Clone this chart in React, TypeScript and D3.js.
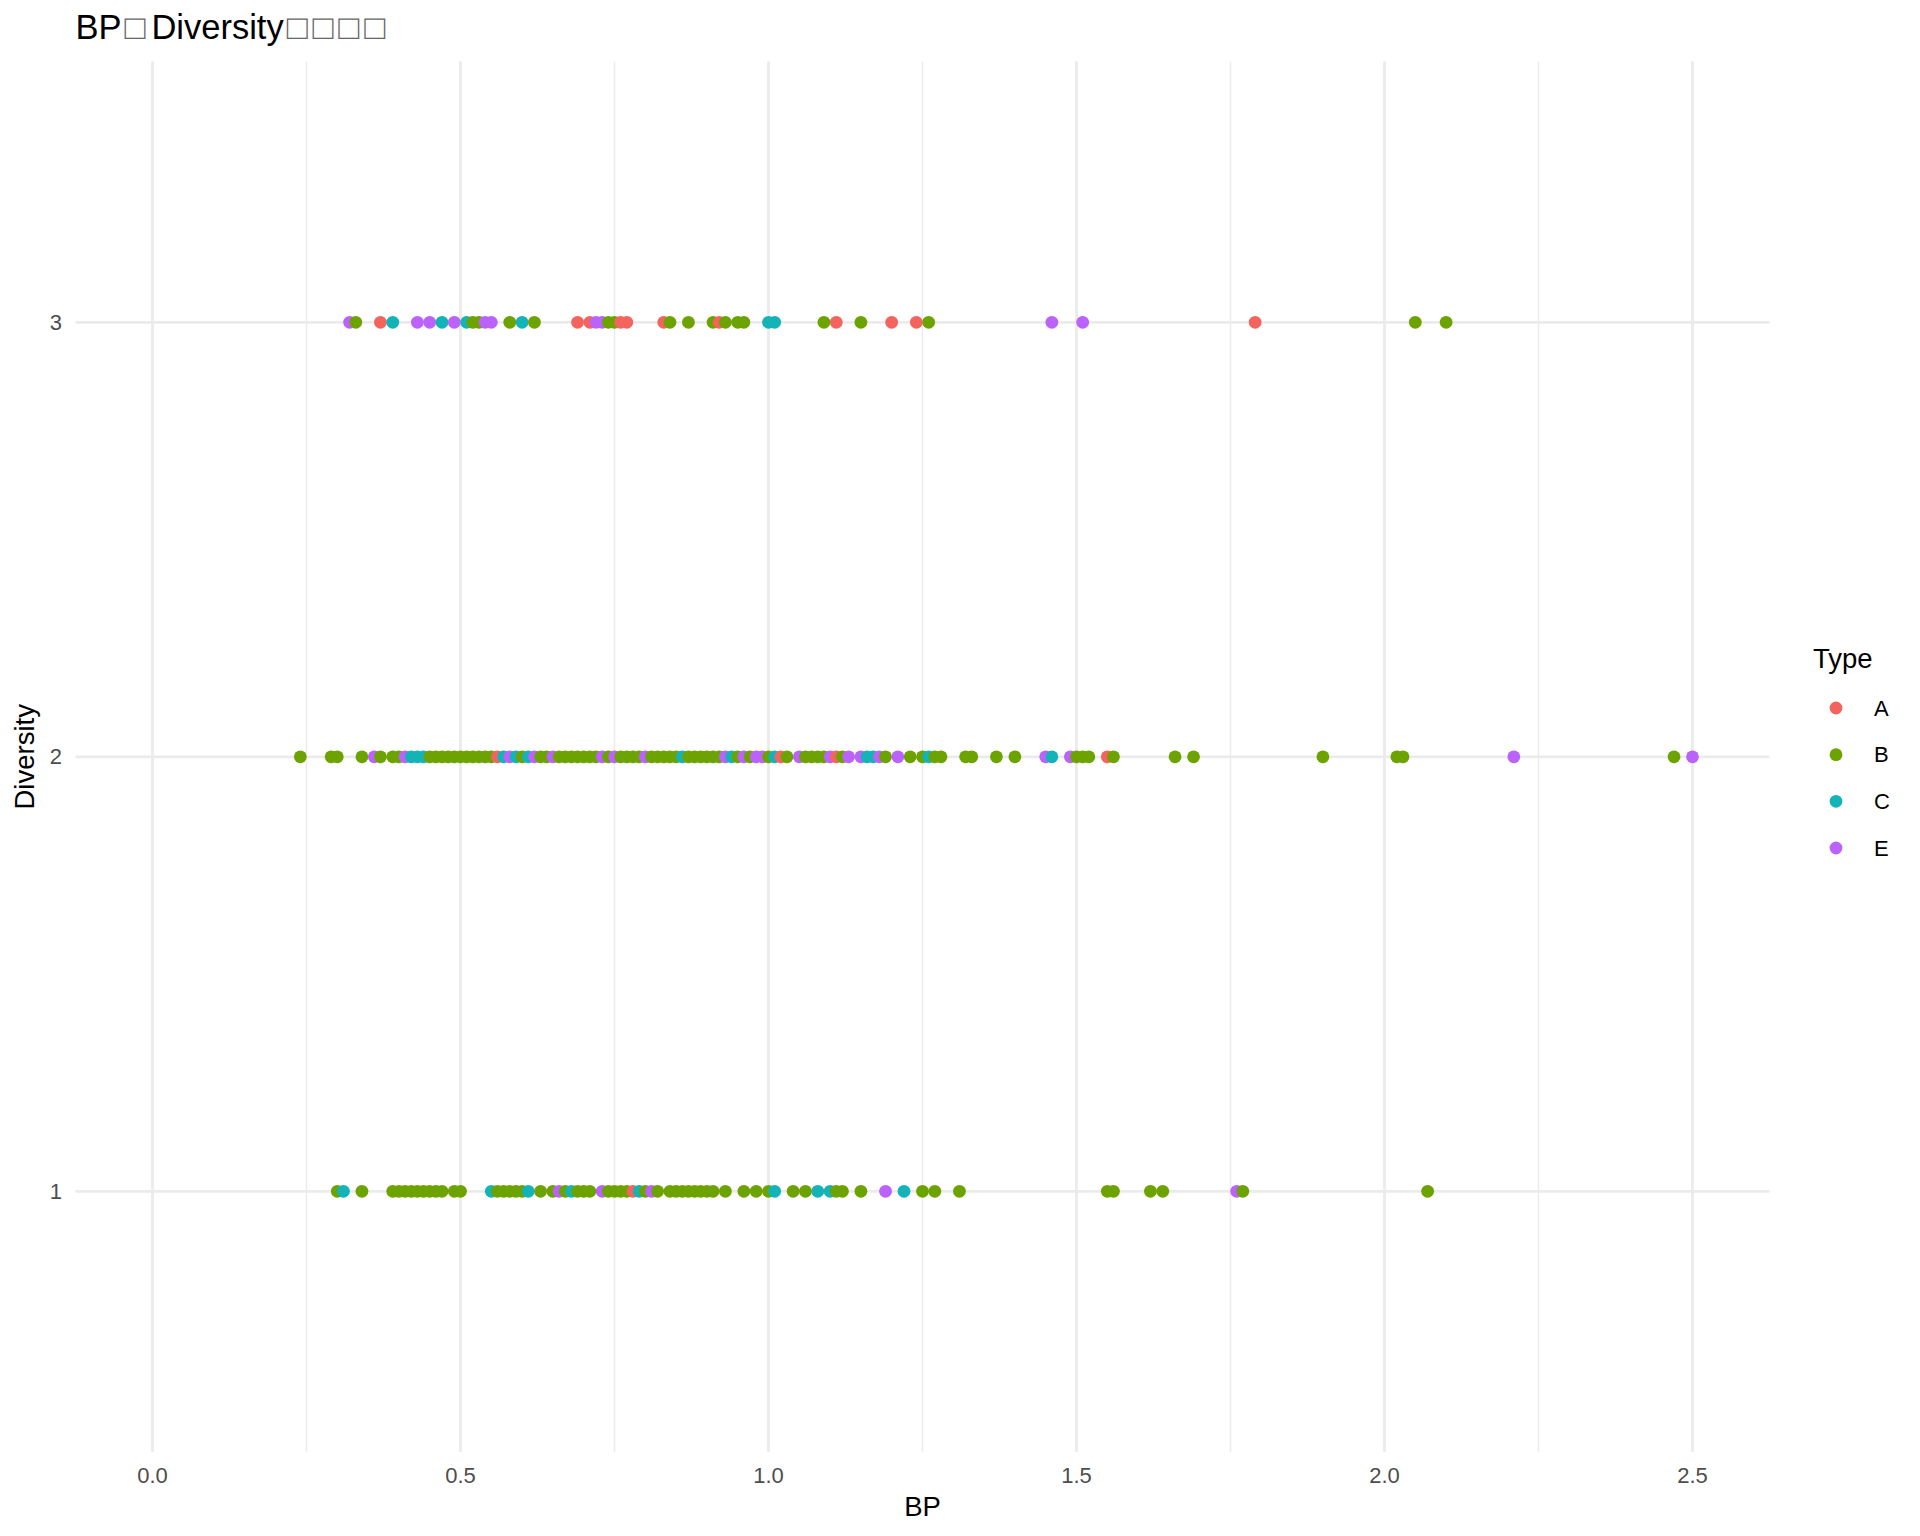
import * as d3 from "d3";

// BP values, per Type and Diversity level
const typeA_div1 = [0.78];
const typeA_div2 = [0.56, 1.02, 1.11, 1.55];
const typeA_div3 = [0.37, 0.69, 0.71, 0.76, 0.77, 0.83, 0.92, 1.11, 1.2, 1.24, 1.79];

const typeB_div1 = [
  0.3, 0.34, 0.39, 0.4, 0.41, 0.42, 0.43, 0.44, 0.45, 0.46, 0.47, 0.49, 0.5, 0.56, 0.57, 0.58, 0.59, 0.6,
  0.63, 0.65, 0.67, 0.69, 0.7, 0.71, 0.74, 0.75, 0.76, 0.77, 0.8, 0.82, 0.84, 0.85, 0.86, 0.87, 0.88, 0.89,
  0.9, 0.91, 0.93, 0.96, 0.98, 1.0, 1.04, 1.06, 1.11, 1.12, 1.15, 1.25, 1.27, 1.31, 1.55, 1.56, 1.62, 1.64,
  1.77, 2.07,
];
const typeB_div2 = [
  0.24, 0.29, 0.3, 0.34, 0.37, 0.39, 0.4, 0.45, 0.46, 0.47, 0.48, 0.49, 0.5, 0.51, 0.52, 0.53, 0.54, 0.55,
  0.6, 0.63, 0.64, 0.66, 0.67, 0.68, 0.69, 0.7, 0.71, 0.72, 0.74, 0.76, 0.77, 0.78, 0.79, 0.81, 0.82, 0.83,
  0.84, 0.85, 0.87, 0.88, 0.89, 0.9, 0.91, 0.92, 0.95, 0.97, 1.0, 1.03, 1.06, 1.07, 1.08, 1.09, 1.12, 1.19,
  1.23, 1.25, 1.27, 1.28, 1.32, 1.33, 1.37, 1.4, 1.5, 1.51, 1.52, 1.56, 1.66, 1.69, 1.9, 2.02, 2.03, 2.47,
];
const typeB_div3 = [
  0.33, 0.52, 0.53, 0.58, 0.62, 0.74, 0.75, 0.84, 0.87, 0.91, 0.93, 0.95, 0.96, 1.09, 1.15, 1.26, 2.05, 2.1,
];

const typeC_div1 = [0.31, 0.55, 0.61, 0.68, 0.79, 1.01, 1.08, 1.1, 1.22];
const typeC_div2 = [0.42, 0.43, 0.44, 0.57, 0.59, 0.61, 0.86, 0.94, 1.01, 1.16, 1.17, 1.26, 1.46];
const typeC_div3 = [0.39, 0.47, 0.51, 0.6, 1.0, 1.01];

const typeE_div1 = [0.66, 0.73, 0.81, 1.19, 1.76];
const typeE_div2 = [
  0.36, 0.41, 0.58, 0.62, 0.65, 0.73, 0.75, 0.8, 0.93, 0.96, 0.98, 0.99, 1.05, 1.1, 1.13, 1.15, 1.18, 1.21,
  1.45, 1.49, 2.21, 2.5,
];
const typeE_div3 = [0.32, 0.43, 0.45, 0.49, 0.54, 0.55, 0.72, 0.73, 1.46, 1.51];

const types = ["A", "B", "C", "E"];
const typeColors = ["#F4645F", "#6CA300", "#14B3B8", "#BA62FA"];
const diversityLevels = ["3", "2", "1"];
const xTicks = [0, 0.5, 1, 1.5, 2, 2.5];
const xMinorTicks = [0.25, 0.75, 1.25, 1.75, 2.25];

// title as rendered: the glyphs the device could not draw show up as boxes
const titleParts = ["BP", "\u25A1", "Diversity", "\u25A1\u25A1\u25A1\u25A1"];

const W = 1920;
const H = 1536;
const panel = { left: 75.5, right: 1769.5, top: 61.6, bottom: 1452 };
const font = "'Liberation Sans', Arial, Helvetica, sans-serif";

export default function App() {
  const x = d3.scaleLinear().domain([-0.125, 2.625]).range([panel.left, panel.right]);
  const y = d3.scalePoint<string>().domain(diversityLevels).range([panel.top, panel.bottom]).padding(0.6);
  const color = d3.scaleOrdinal<string, string>().domain(types).range(typeColors);

  const groups: [string, string, number[]][] = [
    ["A", "1", typeA_div1], ["A", "2", typeA_div2], ["A", "3", typeA_div3],
    ["B", "1", typeB_div1], ["B", "2", typeB_div2], ["B", "3", typeB_div3],
    ["C", "1", typeC_div1], ["C", "2", typeC_div2], ["C", "3", typeC_div3],
    ["E", "1", typeE_div1], ["E", "2", typeE_div2], ["E", "3", typeE_div3],
  ];
  const points = groups
    .flatMap(([type, div, vals]) => vals.map((bp) => ({ type, div, bp })))
    .sort((a, b) => d3.ascending(a.bp, b.bp));

  const legendY = d3.scalePoint<string>().domain(types).range([708, 848]);

  return (
    <svg width={W} height={H} style={{ position: "absolute", left: 0, top: 0, background: "#fff" }} fontFamily={font}>
      <rect width={W} height={H} fill="#fff" />

      {/* minor + major grid */}
      {xMinorTicks.map((t) => (
        <line key={`mx${t}`} x1={x(t)} x2={x(t)} y1={panel.top} y2={panel.bottom} stroke="#EBEBEB" strokeWidth={1.4} />
      ))}
      {xTicks.map((t) => (
        <line key={`x${t}`} x1={x(t)} x2={x(t)} y1={panel.top} y2={panel.bottom} stroke="#EBEBEB" strokeWidth={2.8} />
      ))}
      {diversityLevels.map((d) => (
        <line key={`y${d}`} x1={panel.left} x2={panel.right} y1={y(d)} y2={y(d)} stroke="#EBEBEB" strokeWidth={2.8} />
      ))}

      {points.map((p, i) => (
        <circle key={i} cx={x(p.bp)} cy={y(p.div)} r={6.4} fill={color(p.type)} />
      ))}

      {/* axes text */}
      {xTicks.map((t) => (
        <text key={`xl${t}`} x={x(t)} y={1483} textAnchor="middle" fontSize={22} fill="#4D4D4D">
          {d3.format(".1f")(t)}
        </text>
      ))}
      {diversityLevels.map((d) => (
        <text key={`yl${d}`} x={62} y={y(d)} textAnchor="end" dominantBaseline="central" fontSize={22} fill="#4D4D4D">
          {d}
        </text>
      ))}
      <text x={(panel.left + panel.right) / 2} y={1516} textAnchor="middle" fontSize={27.5} fill="#000">
        BP
      </text>
      <text
        transform={`translate(34, ${(panel.top + panel.bottom) / 2}) rotate(-90)`}
        textAnchor="middle"
        fontSize={27.5}
        fill="#000"
      >
        Diversity
      </text>

      <text x={panel.left} y={39} fontSize={34.5} fill="#000">
        {titleParts.map((s, i) =>
          i % 2 === 1 ? (
            <tspan key={i} dx={3} letterSpacing={5} fill="#666">
              {s}
            </tspan>
          ) : (
            <tspan key={i} dx={i === 0 ? 0 : 1}>
              {s}
            </tspan>
          ),
        )}
      </text>

      {/* legend */}
      <text x={1813} y={668} fontSize={27.5} fill="#000">
        Type
      </text>
      {types.map((t) => (
        <g key={`lg${t}`}>
          <circle cx={1836} cy={legendY(t)} r={6.4} fill={color(t)} />
          <text x={1874} y={legendY(t)} dominantBaseline="central" fontSize={22} fill="#000">
            {t}
          </text>
        </g>
      ))}
    </svg>
  );
}
